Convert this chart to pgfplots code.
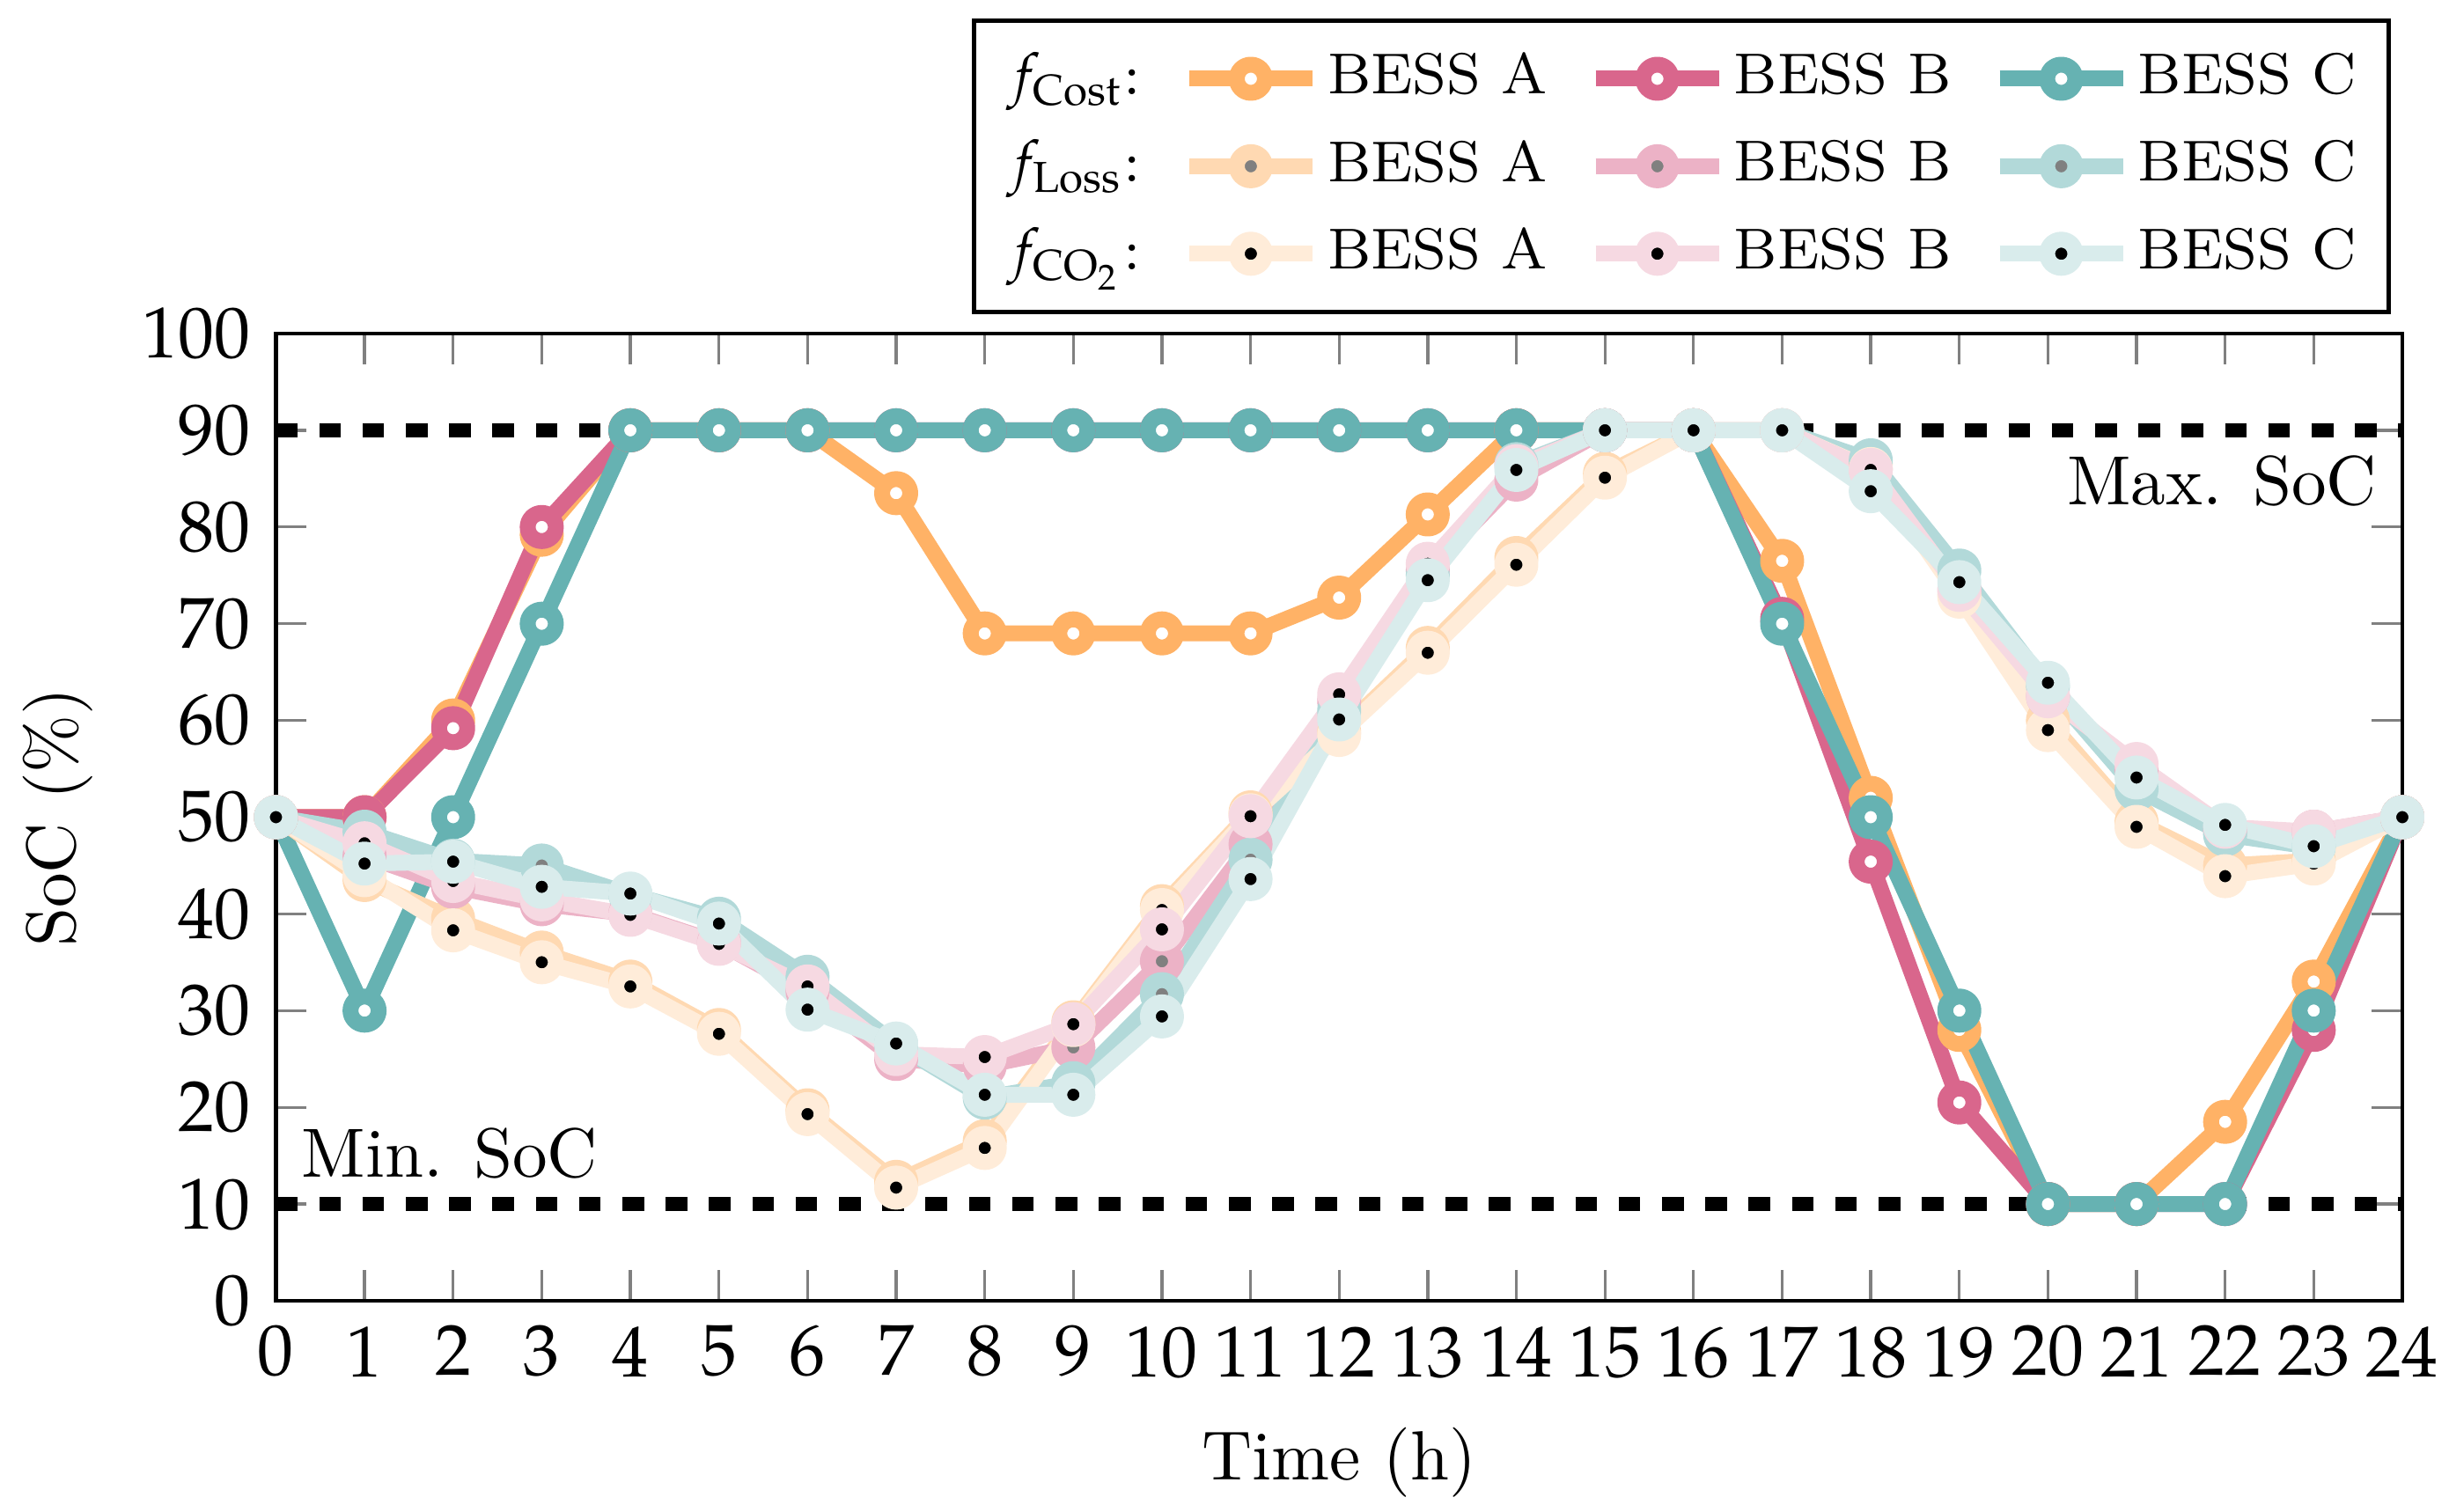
\documentclass[border=0pt]{standalone}
\usepackage{mathpazo}
\usepackage{pgfplots}
\usepackage{pgfplotstable}
\pgfplotsset{compat=1.18}

\pgfplotstableread{
t cA cB cC lA lB lC eA eB eC
0 50 50 50 50 50 50 50 50 50
1 50 50 30 43.5 46 48.5 44 47.3 45.2
2 60 59.2 50 39.5 42.8 45.5 38.3 43.4 45.4
3 79.2 80 70 36 41 45 35 41.5 42.8
4 90 90 90 33 40 42 32.5 39.9 42.1
5 90 90 90 28 37 39.5 27.6 36.9 39
6 90 90 90 19.7 32 33.5 19.3 32.5 30.1
7 83.5 90 90 12.3 25 26.5 11.7 25.5 26.6
8 69 90 90 16.5 24.3 21 15.8 25.2 21.3
9 69 90 90 28.8 26.2 22.5 28.5 28.6 21.3
10 69 90 90 40.8 35.1 31.7 40.4 38.4 29.4
11 69 90 90 50.5 47.2 45.6 50.2 50.1 43.6
12 72.7 90 90 58.8 62 61 58.5 62.7 60.1
13 81.3 90 90 67.5 75.5 75 67 76.2 74.5
14 90 90 90 76.8 84.9 86.5 76.1 86.3 85.9
15 90 90 90 85.5 90 90 85.1 90 90
16 90 90 90 90 90 90 90 90 90
17 76.5 70.5 70 90 90 90 90 90 90
18 52 45.4 50 86.5 86 86.9 86 85.9 83.7
19 28 20.5 30 73 73.5 75.5 72.8 73.5 74.3
20 10 10 10 60 62.5 63.5 59 62.5 63.9
21 10 10 10 49.5 55 52.9 49 55.5 54.1
22 18.5 10 10 45 48.5 48.2 43.9 49 49.2
23 33 28 30 45.5 48.5 46.9 45.2 48.5 47
24 50 50 50 50 50 50 50 50 50
}\soc

\pgfplotsset{
  ser/.style={line width=2.2pt, mark=*, mark size=1.95pt, line join=round},
  cost/.style={ser, #1, mark options={solid, fill=white}},
  loss/.style={ser, #1, mark options={solid, fill=gray}},
  cotwo/.style={ser, #1, mark options={solid, fill=black}},
}
\newcommand{\txtfont}{\fontsize{9.65}{11.6}\selectfont}

\begin{document}
\begin{tikzpicture}
\useasboundingbox (-38.23pt,-29.15pt) rectangle (301.04pt,180.24pt);
\begin{axis}[
  scale only axis,
  width=294.57pt, height=134.02pt,
  xmin=0, xmax=24, ymin=0, ymax=100,
  xtick={0,1,...,24}, ytick={0,10,...,100},
  tick style={gray, line width=0.4pt},
  axis line style={line width=0.5pt},
  xlabel={Time (h)}, ylabel={SoC (\%)},
  label style={font=\txtfont},
  clip=false,
  legend columns=4,
  legend cell align=left,
  legend style={at={(1,1)}, anchor=south east, xshift=-1.6pt, yshift=2.7pt,
    font=\fontsize{8.0}{9.6}\selectfont, draw=black, line width=0.6pt,
    inner xsep=3.5pt, inner ysep=2.4pt, row sep=0.8pt,
    nodes={inner xsep=1pt},
    /tikz/every even column/.append style={column sep=4.6pt}},
]
\addplot[black, dashed, line width=2pt, forget plot] coordinates {(0,90) (24,90)};
\addplot[black, dashed, line width=2pt, forget plot] coordinates {(0,10) (24,10)};

\addlegendimage{empty legend}\addlegendentry{$f_{\mathrm{Cost}}$:\hspace{4.3pt}}
\addplot[cost=orange!60] table[x=t, y=cA] {\soc}; \addlegendentry{BESS A}
\addplot[cost=purple!60] table[x=t, y=cB] {\soc}; \addlegendentry{BESS B}
\addplot[cost=teal!60] table[x=t, y=cC] {\soc}; \addlegendentry{BESS C}

\addlegendimage{empty legend}\addlegendentry{$f_{\mathrm{Loss}}$:\hspace{4.3pt}}
\addplot[loss=orange!30] table[x=t, y=lA] {\soc}; \addlegendentry{BESS A}
\addplot[loss=purple!30] table[x=t, y=lB] {\soc}; \addlegendentry{BESS B}
\addplot[loss=teal!30] table[x=t, y=lC] {\soc}; \addlegendentry{BESS C}

\addlegendimage{empty legend}\addlegendentry{$f_{\mathrm{CO_2}}$:\hspace{4.3pt}}
\addplot[cotwo=orange!15] table[x=t, y=eA] {\soc}; \addlegendentry{BESS A}
\addplot[cotwo=purple!15] table[x=t, y=eB] {\soc}; \addlegendentry{BESS B}
\addplot[cotwo=teal!15] table[x=t, y=eC] {\soc}; \addlegendentry{BESS C}

\node[anchor=north east, font=\txtfont] at (axis cs:24,90) {Max. SoC};
\node[anchor=south west, font=\txtfont] at (axis cs:0,10) {Min. SoC};
\end{axis}
\end{tikzpicture}
\end{document}
